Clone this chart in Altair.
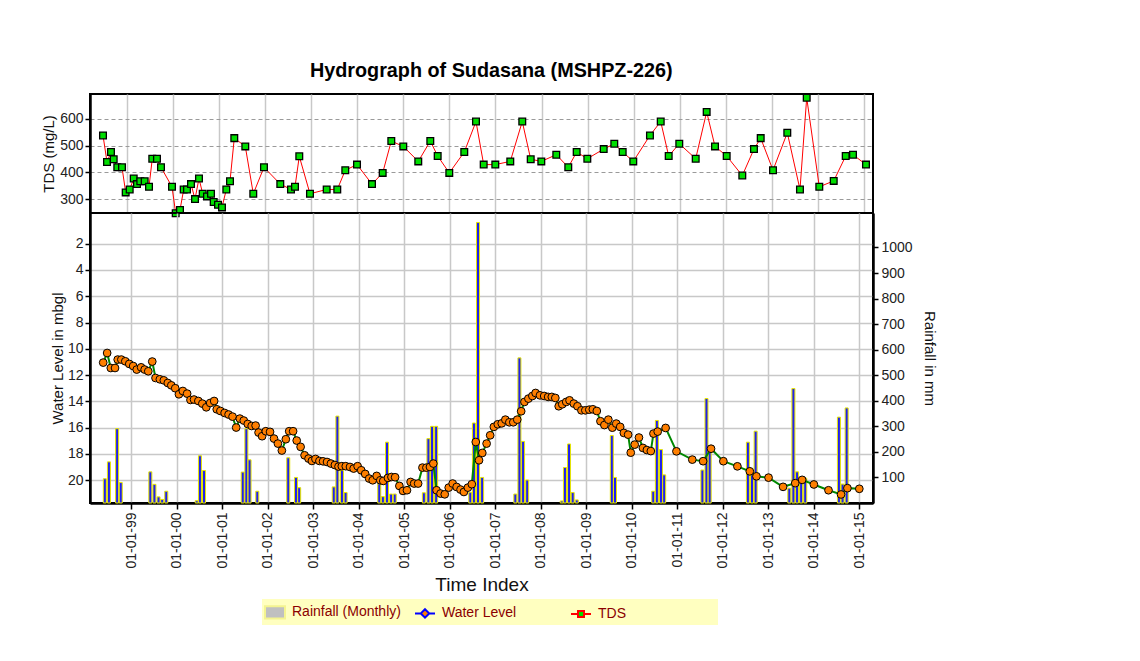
import altair as alt
import pandas as pd

# ---------------- data ----------------
wl_year = [1998.384, 1998.471, 1998.551, 1998.644, 1998.703, 1998.783, 1998.870, 1998.957, 1999.043, 1999.121,
           1999.217, 1999.295, 1999.375, 1999.462, 1999.534, 1999.629, 1999.716, 1999.803, 1999.881, 1999.967,
           2000.048, 2000.134, 2000.228, 2000.302, 2000.380, 2000.475, 2000.562, 2000.649, 2000.735, 2000.822,
           2000.879, 2000.959, 2001.052, 2001.139, 2001.226, 2001.306, 2001.386, 2001.473, 2001.560, 2001.646,
           2001.733, 2001.798, 2001.876, 2001.957, 2002.050, 2002.137, 2002.223, 2002.310, 2002.397, 2002.471,
           2002.557, 2002.636, 2002.722, 2002.809, 2002.896, 2002.970, 2003.048, 2003.135, 2003.215, 2003.302,
           2003.388, 2003.475, 2003.555, 2003.627, 2003.714, 2003.807, 2003.887, 2003.974, 2004.054, 2004.141,
           2004.228, 2004.306, 2004.393, 2004.473, 2004.538, 2004.640, 2004.718, 2004.798, 2004.892, 2004.972,
           2005.059, 2005.139, 2005.217, 2005.304, 2005.399, 2005.486, 2005.564, 2005.638, 2005.709, 2005.796,
           2005.889, 2005.976, 2006.063, 2006.150, 2006.236, 2006.310, 2006.397, 2006.484, 2006.571, 2006.642,
           2006.714, 2006.809, 2006.887, 2006.968, 2007.054, 2007.141, 2007.221, 2007.308, 2007.395, 2007.482,
           2007.568, 2007.640, 2007.727, 2007.814, 2007.885, 2007.981, 2008.074, 2008.161, 2008.241, 2008.319,
           2008.393, 2008.471, 2008.558, 2008.631, 2008.725, 2008.805, 2008.892, 2008.978, 2009.065, 2009.143,
           2009.230, 2009.310, 2009.397, 2009.484, 2009.571, 2009.657, 2009.744, 2009.824, 2009.918, 2009.976,
           2010.063, 2010.156, 2010.243, 2010.330, 2010.417, 2010.475, 2010.568, 2010.742, 2010.980, 2011.328,
           2011.566, 2011.740, 2012.011, 2012.319, 2012.592, 2012.738, 2013.004, 2013.323, 2013.590, 2013.742,
           2014.000, 2014.321, 2014.597, 2014.737, 2014.998]
wl_level = [11.05, 10.32, 11.46, 11.46, 10.82, 10.82, 10.95, 11.15, 11.31, 11.58,
            11.41, 11.58, 11.71, 10.97, 12.22, 12.32, 12.40, 12.60, 12.78, 13.00,
            13.46, 13.21, 13.41, 13.89, 13.86, 13.97, 14.17, 14.45, 14.12, 13.97,
            14.60, 14.73, 14.88, 15.00, 15.16, 15.99, 15.31, 15.46, 15.72, 15.87,
            15.84, 16.37, 16.65, 16.27, 16.32, 16.83, 17.21, 17.74, 16.88, 16.27,
            16.27, 16.98, 17.46, 18.10, 18.35, 18.53, 18.38, 18.53, 18.56, 18.61,
            18.73, 18.84, 18.96, 18.93, 18.93, 18.99, 19.11, 18.93, 19.24, 19.52,
            19.87, 20.00, 19.67, 20.00, 20.05, 19.82, 19.75, 19.77, 20.43, 20.81,
            20.76, 20.13, 20.25, 20.25, 19.04, 19.04, 18.99, 18.73, 20.76, 21.01,
            21.07, 20.56, 20.25, 20.51, 20.71, 20.89, 20.56, 20.30, 17.09, 18.48,
            17.92, 17.21, 16.58, 15.94, 15.74, 15.67, 15.39, 15.59, 15.59, 15.39,
            14.75, 14.04, 13.79, 13.59, 13.36, 13.54, 13.59, 13.66, 13.66, 13.74,
            14.37, 14.22, 14.04, 13.92, 14.17, 14.37, 14.68, 14.68, 14.63, 14.60,
            14.73, 15.51, 15.80, 15.39, 16.00, 15.69, 15.94, 16.40, 16.53, 17.90,
            17.29, 16.75, 17.54, 17.70, 17.78, 16.45, 16.30, 16.02, 17.80, 18.43,
            18.55, 17.60, 18.55, 18.94, 19.32, 19.70, 19.80, 20.50, 20.22, 19.97,
            20.32, 20.76, 21.08, 20.60, 20.65]

tds_year = [1998.486, 1998.573, 1998.659, 1998.718, 1998.796, 1998.898, 1998.978, 1999.065, 1999.152, 1999.223,
            1999.295, 1999.390, 1999.484, 1999.555, 1999.657, 1999.744, 1999.983, 2000.063, 2000.156, 2000.236,
            2000.308, 2000.395, 2000.482, 2000.568, 2000.649, 2000.742, 2000.829, 2000.887, 2000.981, 2001.067,
            2001.161, 2001.241, 2001.334, 2001.573, 2001.746, 2001.978, 2002.332, 2002.564, 2002.651, 2002.744,
            2002.976, 2003.338, 2003.568, 2003.742, 2003.996, 2004.321, 2004.553, 2004.740, 2005.000, 2005.325,
            2005.586, 2005.746, 2005.998, 2006.323, 2006.577, 2006.744, 2006.996, 2007.321, 2007.581, 2007.764,
            2007.994, 2008.319, 2008.579, 2008.761, 2008.992, 2009.347, 2009.577, 2009.759, 2009.989, 2010.351,
            2010.584, 2010.757, 2010.987, 2011.343, 2011.581, 2011.762, 2012.015, 2012.354, 2012.607, 2012.753,
            2013.020, 2013.330, 2013.605, 2013.751, 2014.024, 2014.337, 2014.597, 2014.755, 2015.037]
tds_value = [538, 439, 476, 449, 419, 419, 325, 336, 377, 356,
             367, 367, 346, 451, 451, 419, 346, 247, 259, 336,
             336, 356, 300, 377, 320, 310, 320, 289, 279, 269,
             336, 367, 528, 497, 320, 419, 356, 336, 346, 460,
             320, 336, 336, 408, 429, 356, 398, 517, 497, 441,
             517, 461, 398, 476, 590, 429, 429, 441, 590, 449,
             441, 466, 419, 476, 451, 487, 507, 476, 441, 538,
             590, 461, 507, 451, 626, 497, 461, 388, 487, 528,
             408, 548, 336, 679, 346, 368, 461, 466, 429]

rain_year = [1998.42, 1998.51, 1998.69, 1998.77, 1999.42, 1999.51, 1999.60, 1999.68, 1999.77,
             2000.44, 2000.51, 2000.60, 2001.45, 2001.53, 2001.60, 2001.77, 2002.45, 2002.62, 2002.69,
             2003.45, 2003.53, 2003.63, 2003.71, 2004.45, 2004.53, 2004.62, 2004.71, 2004.79,
             2005.43, 2005.53, 2005.61, 2005.70, 2006.45, 2006.53, 2006.62, 2006.71,
             2007.44, 2007.53, 2007.61, 2007.70, 2008.46, 2008.53, 2008.62, 2008.70, 2008.79,
             2009.56, 2009.63, 2010.47, 2010.55, 2010.64, 2010.71, 2011.55, 2011.64, 2011.71,
             2012.55, 2012.64, 2012.72, 2013.46, 2013.55, 2013.63, 2013.72, 2013.81,
             2014.55, 2014.63, 2014.72]
rain_mm = [95, 161, 291, 80, 122, 73, 24, 14, 46,
           9, 185, 127, 121, 291, 169, 46, 177, 100, 60,
           63, 340, 127, 41, 75, 25, 238, 35, 35,
           40, 252, 300, 300, 42, 313, 1098, 100,
           35, 568, 241, 90, 8, 139, 231, 41, 12,
           264, 100, 46, 323, 209, 110, 129, 409, 200,
           238, 110, 281, 58, 448, 122, 97, 97,
           336, 74, 372]

year_ticks = list(range(1999, 2016))
wl_ticks = list(range(2, 21, 2))
rain_ticks = list(range(100, 1001, 100))
tds_ticks = [300, 400, 500, 600]
legend_labels = ["Rainfall (Monthly)", "Water Level", "TDS"]

# ---------------- styling ----------------
FONT = "Liberation Sans"
W = 783
X_DOMAIN = [1998.204, 2015.189]

tds_df = pd.DataFrame({"year": tds_year, "tds": tds_value})
wl_df = pd.DataFrame({"year": wl_year, "level": wl_level})
rain_df = pd.DataFrame({"year": rain_year, "rain": rain_mm})
legend_df = pd.DataFrame({"series": legend_labels})

x_scale = alt.Scale(domain=X_DOMAIN, nice=False, zero=False)

common = dict(labelFont=FONT, labelFontSize=14, labelColor="#222222",
              titleFont=FONT, titleFontWeight="normal", titleColor="#111111",
              domainColor="black", domainWidth=2.5, tickColor="black", tickWidth=1.5)

# ---- TDS panel ----
tds_x = alt.X("year:Q", scale=x_scale,
              axis=alt.Axis(values=year_ticks, labels=False, ticks=False, domain=False,
                            grid=True, gridColor="#C8C8C8", gridWidth=1.5, title=None))
tds_y = alt.Y("tds:Q", scale=alt.Scale(domain=[248, 693], nice=False, zero=False),
              axis=alt.Axis(values=tds_ticks, title="TDS (mg/L)", grid=True, gridColor="#9A9A9A",
                            gridDash=[4, 3], gridWidth=1, tickSize=5, labelPadding=2,
                            titleFontSize=15, titleX=-41.5, titleY=59.5, titleAngle=270,
                            titleAlign="center", titleBaseline="middle", **common))
tds_base = alt.Chart(tds_df).encode(x=tds_x, y=tds_y)
tds_chart = alt.layer(
    tds_base.mark_line(color="#FF0000", strokeWidth=1),
    tds_base.mark_point(shape="square", filled=True, fill="#00DD00", stroke="black",
                        strokeWidth=1.3, size=45, opacity=1),
).properties(width=W, height=119)

# ---- water level / rainfall panel ----
label_expr = "'01-01-' + substring(toString(datum.value), 2, 4)"
main_x = alt.X("year:Q", scale=x_scale,
               axis=alt.Axis(values=year_ticks, labelExpr=label_expr, labelAngle=270, labelPadding=3,
                             tickSize=6, grid=True, gridColor="#C8C8C8", gridWidth=1.5,
                             title="Time Index", titleFontSize=19, titleY=81, titleBaseline="middle",
                             **common))
rain_y = alt.Y("rain:Q", scale=alt.Scale(domain=[0, 1135], nice=False),
               axis=alt.Axis(orient="right", values=rain_ticks, format="d", grid=False,
                             title="Rainfall in mm", tickSize=5, labelPadding=3, titleFontSize=15,
                             titleX=56, titleY=145, titleAngle=90, titleAlign="center",
                             titleBaseline="middle", **common))
rain_layer = alt.Chart(rain_df).mark_bar(width=3, orient="vertical", fill="#2020EE", stroke="#E6E600",
                                         strokeWidth=1).encode(x=main_x, y=rain_y)

wl_y = alt.Y("level:Q", scale=alt.Scale(domain=[-0.33, 21.73], reverse=True, nice=False, zero=False),
             axis=alt.Axis(orient="left", values=wl_ticks, grid=True, gridColor="#C8C8C8", gridWidth=1.5,
                           title="Water Level in mbgl", tickSize=5, labelPadding=2, titleFontSize=15,
                           titleX=-33, titleY=145, titleAngle=270, titleAlign="center",
                           titleBaseline="middle", **common))
wl_base = alt.Chart(wl_df).encode(x=main_x, y=wl_y)
wl_layers = alt.layer(
    wl_base.mark_line(color="#008800", strokeWidth=2),
    wl_base.mark_point(shape="circle", filled=True, fill="#FF7F00", stroke="black",
                       strokeWidth=1, size=60, opacity=1),
)

rect_path = "M-1,-0.62H1V0.62H-1Z"
wl_path = "M-1,0H-0.42M0.42,0H1M0,-0.42L0.42,0L0,0.42L-0.42,0Z"
tds_path = "M-1,0H-0.3M0.3,0H1M-0.3,-0.3H0.3V0.3H-0.3Z"

# legend cells are widened with blank (U+2800) glyphs to the reference's fixed cell widths
BL = "\u2800"
legend_label_expr = ("datum.label == 'TDS' ? datum.label + '" + BL * 9 + "' : "
                     "datum.label == 'Water Level' ? datum.label + '" + BL * 5 + "' : "
                     "datum.label + '" + BL * 1 + "'")
leg = dict(title=None, orient="none", legendX=172, legendY=386, direction="horizontal", columns=3,
           gridAlign="each", fillColor="#FFFFC0", padding=2, columnPadding=0, labelFont=FONT,
           labelFontSize=14, labelColor="#8B0000", labelOffset=6, symbolSize=400,
           symbolStrokeWidth=2, labelLimit=400, labelExpr=legend_label_expr)
legend_layer = alt.Chart(legend_df).mark_point(filled=True, clip=True, size=400, opacity=1,
                                               strokeWidth=2).encode(
    x=alt.value(-80), y=alt.value(-80),
    fill=alt.Fill("series:N", scale=alt.Scale(domain=legend_labels,
                                              range=["#C0C0C0", "#FF8000", "#00DD00"]),
                  legend=alt.Legend(**leg)),
    stroke=alt.Stroke("series:N", scale=alt.Scale(domain=legend_labels,
                                                  range=["#F4F490", "#0000FF", "#FF0000"]),
                      legend=alt.Legend(**leg)),
    shape=alt.Shape("series:N", scale=alt.Scale(domain=legend_labels,
                                                range=[rect_path, wl_path, tds_path]),
                    legend=alt.Legend(**leg)),
)

main_chart = alt.layer(rain_layer, wl_layers, legend_layer).resolve_scale(
    y="independent").properties(width=W, height=290)

chart = alt.vconcat(tds_chart, main_chart, spacing=0, bounds="flush").resolve_scale(
    fill="independent", stroke="independent", shape="independent"
).properties(
    title=alt.TitleParams("Hydrograph of Sudasana (MSHPZ-226)", font=FONT, fontSize=19.8,
                          fontWeight="bold", color="black", anchor="middle", offset=10, dx=2.5),
    padding={"left": 32, "top": 52, "right": 10, "bottom": 10},
    background="white",
).configure_view(stroke="black", strokeWidth=2)

chart.save("out.html", embed_options={"renderer": "svg", "actions": False})
